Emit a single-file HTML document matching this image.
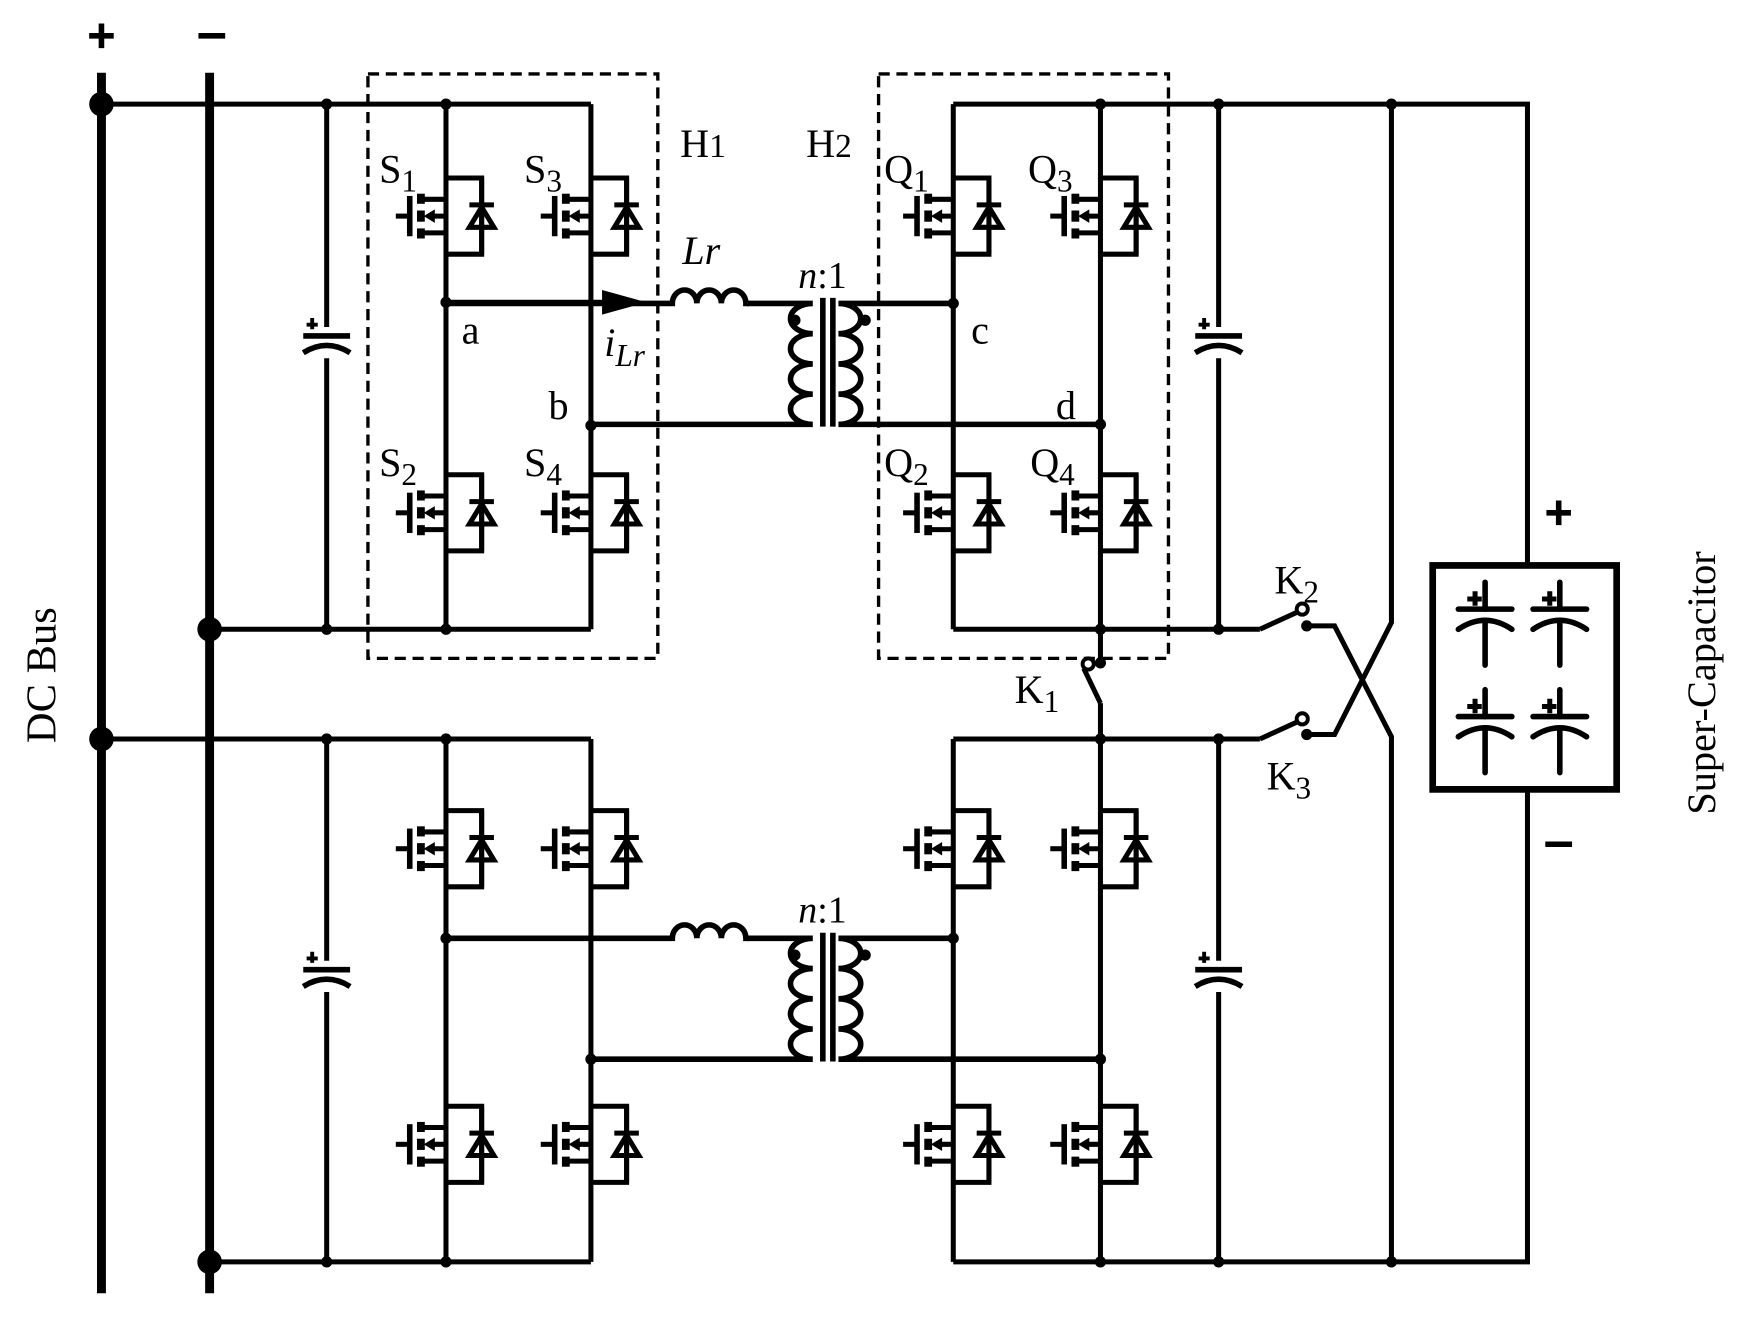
<!DOCTYPE html>
<html><head><meta charset="utf-8"><style>
html,body{margin:0;padding:0;background:#fff;}
svg{display:block;}
text{font-family:"Liberation Serif",serif;fill:#000;}
</style></head><body>
<svg width="1746" height="1319" viewBox="0 0 1566 1178" preserveAspectRatio="none" xmlns="http://www.w3.org/2000/svg">
<defs>
<g id="m">
<path d="M0,-34 H32 V34 H0" fill="none" stroke="#000" stroke-width="4.5"/>
<path d="M21,-10 H43 M32,-34 V34" stroke="#000" stroke-width="4.5" fill="none"/>
<polygon points="21,10 43,10 32,-8" fill="none" stroke="#000" stroke-width="4.5" stroke-linejoin="miter"/>
<line x1="-45" y1="0" x2="-32" y2="0" stroke="#000" stroke-width="4.5"/>
<rect x="-35" y="-18" width="5" height="36"/>
<rect x="-26" y="-20" width="7" height="9"/>
<rect x="-26" y="-5" width="7" height="10"/>
<rect x="-26" y="11" width="7" height="9"/>
<path d="M-22,-15 H0 M-22,15 H0 M-12,0 H0" stroke="#000" stroke-width="4.5"/>
<polygon points="-20,0 -10,-6 -10,6"/>
</g>
<g id="c">
<path d="M-21,-6 H21" stroke="#000" stroke-width="5"/>
<path d="M-21,9 Q0,-4 21,9" stroke="#000" stroke-width="5" fill="none"/>
<path d="M-13,-22 V-12 M-18,-16 H-8" stroke="#000" stroke-width="3.5"/>
</g>
<g id="sc">
<path d="M-24,-6 H24" stroke="#000" stroke-width="5" stroke-linecap="round"/>
<path d="M-24,12 Q0,-4 24,12" stroke="#000" stroke-width="5" fill="none" stroke-linecap="round"/>
<path d="M0,-30 V-6 M0,4 V44" stroke="#000" stroke-width="5" stroke-linecap="round"/>
<path d="M-9,-22 V-9 M-16,-15 H-3" stroke="#000" stroke-width="4.5"/>
</g>
<g id="xf">
<path d="M670,0 H729 A20 13.5 0 0 0 729,27 A20 13.5 0 0 0 729,54 A20 13.5 0 0 0 729,81 A20 13.5 0 0 0 729,108 H530" fill="none" stroke="#000" stroke-width="5"/>
<path d="M855,0 H752 A20 13.5 0 0 1 752,27 A20 13.5 0 0 1 752,54 A20 13.5 0 0 1 752,81 A20 13.5 0 0 1 752,108 H987" fill="none" stroke="#000" stroke-width="5"/>
<path d="M738,-5 V110 M747,-5 V110" stroke="#000" stroke-width="5"/>
<circle cx="713" cy="15" r="5"/><circle cx="776" cy="15" r="5"/>
<path d="M400,0 H603 A11 12 0 0 1 625,0 A11 12 0 0 1 647,0 A11 12 0 0 1 669,0 H672" fill="none" stroke="#000" stroke-width="5"/>
<text x="716" y="-14" font-size="34"><tspan font-style="italic">n</tspan>:1</text>
</g>
</defs>

<g stroke="#000" fill="none">
<line x1="91" y1="65" x2="91" y2="1155" stroke-width="8"/>
<line x1="188" y1="65" x2="188" y2="1155" stroke-width="8"/>
<g stroke-width="4.5">
<path d="M91,93 H530 M188,562 H530 M91,660 H530 M188,1127 H530"/>
<path d="M400,93 V562 M530,93 V562 M400,660 V1127 M530,660 V1127"/>
<path d="M293,93 V292 M293,320 V562 M293,660 V858 M293,886 V1127"/>
<path d="M855,93 H1370 V505 M1370,705 V1127 H855 M855,93 V562 M987,93 V562 M855,660 V1127 M987,660 V1127"/>
<path d="M855,562 H1130 M855,660 H1130"/>
<path d="M1093,93 V292 M1093,320 V562 M1093,660 V858 M1093,886 V1127"/>
<path d="M1248,93 V556 L1197,656 H1172 M1172,559 H1197 L1248,658 V1127"/>
<path d="M1130,562 L1163,547 M1130,660 L1163,645"/>
<path d="M987,562 V592 M987,628 L972,597 M987,628 V660"/>
<path d="M400,270 H545"/>
<rect x="1285" y="505" width="165" height="200" stroke-width="6"/>
</g>
<g stroke-width="3" stroke-dasharray="10,6">
<rect x="330" y="66" width="260" height="522"/>
<rect x="788" y="66" width="260" height="522"/>
</g>
<circle cx="1168" cy="544" r="5" stroke-width="3.5"/>
<circle cx="1168" cy="642" r="5" stroke-width="3.5"/>
<circle cx="976" cy="593" r="5" stroke-width="3.5"/>
</g>
<polygon points="540,259 580,270 540,281"/>
<circle cx="1172" cy="559" r="5"/><circle cx="1172" cy="656" r="5"/><circle cx="987" cy="592" r="5"/>

<use href="#xf" transform="translate(0,271)"/>
<use href="#xf" transform="translate(0,838)"/>

<use href="#m" transform="translate(400,193)"/><use href="#m" transform="translate(530,193)"/>
<use href="#m" transform="translate(400,458)"/><use href="#m" transform="translate(530,458)"/>
<use href="#m" transform="translate(855,193)"/><use href="#m" transform="translate(987,193)"/>
<use href="#m" transform="translate(855,458)"/><use href="#m" transform="translate(987,458)"/>
<use href="#m" transform="translate(400,758)"/><use href="#m" transform="translate(530,758)"/>
<use href="#m" transform="translate(400,1022)"/><use href="#m" transform="translate(530,1022)"/>
<use href="#m" transform="translate(855,758)"/><use href="#m" transform="translate(987,758)"/>
<use href="#m" transform="translate(855,1022)"/><use href="#m" transform="translate(987,1022)"/>

<use href="#c" transform="translate(293,306)"/><use href="#c" transform="translate(293,872)"/>
<use href="#c" transform="translate(1093,306)"/><use href="#c" transform="translate(1093,872)"/>
<use href="#sc" transform="translate(1332,550)"/><use href="#sc" transform="translate(1399,550)"/>
<use href="#sc" transform="translate(1332,646)"/><use href="#sc" transform="translate(1399,646)"/>

<g>
<circle cx="91" cy="93" r="11"/><circle cx="188" cy="562" r="11"/><circle cx="91" cy="660" r="11"/><circle cx="188" cy="1127" r="11"/>
<circle cx="293" cy="93" r="5"/><circle cx="400" cy="93" r="5"/><circle cx="293" cy="562" r="5"/><circle cx="400" cy="562" r="5"/>
<circle cx="400" cy="270" r="5"/><circle cx="530" cy="380" r="5"/><circle cx="855" cy="271" r="5"/><circle cx="987" cy="379" r="5"/>
<circle cx="987" cy="93" r="5"/><circle cx="1093" cy="93" r="5"/><circle cx="1248" cy="93" r="5"/>
<circle cx="987" cy="562" r="5"/><circle cx="1093" cy="562" r="5"/><circle cx="987" cy="660" r="5"/><circle cx="1093" cy="660" r="5"/>
<circle cx="293" cy="660" r="5"/><circle cx="400" cy="660" r="5"/><circle cx="400" cy="838" r="5"/><circle cx="530" cy="946" r="5"/>
<circle cx="855" cy="838" r="5"/><circle cx="987" cy="946" r="5"/>
<circle cx="293" cy="1127" r="5"/><circle cx="400" cy="1127" r="5"/><circle cx="987" cy="1127" r="5"/><circle cx="1093" cy="1127" r="5"/><circle cx="1248" cy="1127" r="5"/>
</g>

<g stroke="#000" stroke-width="5">
<path d="M80,32 H102 M91,21 V43"/>
<path d="M178,32 H202"/>
<path d="M1387,458 H1409 M1398,447 V469"/>
<path d="M1386,754 H1410"/>
</g>

<g font-size="36">
<text x="340" y="163">S<tspan font-size="28" dy="8">1</tspan></text>
<text x="470" y="163">S<tspan font-size="28" dy="8">3</tspan></text>
<text x="340" y="425">S<tspan font-size="28" dy="8">2</tspan></text>
<text x="470" y="425">S<tspan font-size="28" dy="8">4</tspan></text>
<text x="793" y="163">Q<tspan font-size="28" dy="8">1</tspan></text>
<text x="922" y="163">Q<tspan font-size="28" dy="8">3</tspan></text>
<text x="793" y="425">Q<tspan font-size="28" dy="8">2</tspan></text>
<text x="924" y="425">Q<tspan font-size="28" dy="8">4</tspan></text>
<text x="610" y="140">H<tspan font-size="30">1</tspan></text>
<text x="723" y="140">H<tspan font-size="30">2</tspan></text>
<text x="414" y="307">a</text>
<text x="492" y="374">b</text>
<text x="871" y="307">c</text>
<text x="947" y="374">d</text>
<text x="542" y="318" font-style="italic">i<tspan font-size="28" dy="9">Lr</tspan></text>
<text x="612" y="236" font-style="italic">Lr</text>
<text x="1143" y="530">K<tspan font-size="28" dy="8">2</tspan></text>
<text x="1136" y="705">K<tspan font-size="28" dy="8">3</tspan></text>
<text x="910" y="628">K<tspan font-size="28" dy="8">1</tspan></text>
<text transform="translate(1538,610) rotate(-90)" text-anchor="middle" font-size="36">Super-Capacitor</text>
<text transform="translate(50,603) rotate(-90)" text-anchor="middle" font-size="38">DC Bus</text>
</g>
</svg>
</body></html>
